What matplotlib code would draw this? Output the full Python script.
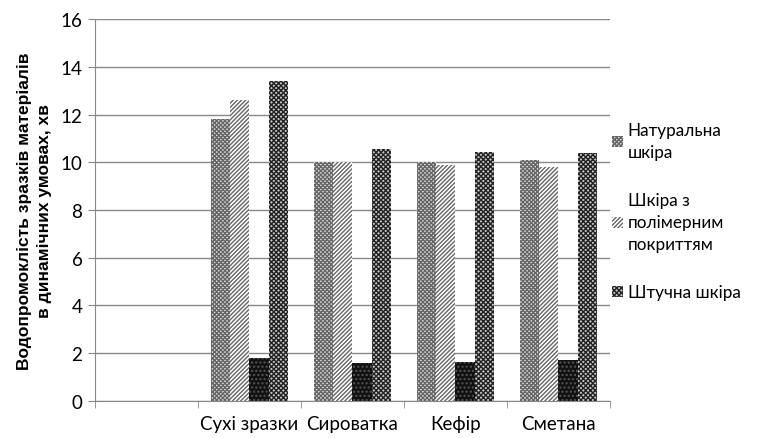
import matplotlib.pyplot as plt
import matplotlib as mpl
import numpy as np

categories = ["", "Сухі зразки", "Сироватка", "Кефір", "Сметана"]
natural = [0, 11.8, 10.0, 10.0, 10.1]
polymer = [0, 12.6, 10.0, 9.9, 9.8]
black_bars = [0, 1.8, 1.6, 1.65, 1.7]
artificial = [0, 13.4, 10.55, 10.45, 10.4]
legend_labels = ["Натуральна\nшкіра", "Шкіра з\nполімерним\nпокриттям", "Штучна шкіра"]

mpl.rcParams['font.family'] = ['Lato', 'DejaVu Sans']
mpl.rcParams['hatch.linewidth'] = 1.0

fig = plt.figure(figsize=(7.58, 4.39), dpi=100)
ax = fig.add_axes([0.1253, 0.0843, 0.6794, 0.8701])

x = np.arange(len(categories))
w = 0.185

b1 = ax.bar(x - 1.5 * w, natural, w, color='#dddddd', hatch='xxxxxxxx', edgecolor='#666666', linewidth=0)
b2 = ax.bar(x - 0.5 * w, polymer, w, color='white', hatch='////////', edgecolor='#666666', linewidth=0)
b3 = ax.bar(x + 0.5 * w, black_bars, w, color='#111111', hatch='....', edgecolor='#555555', linewidth=0)
b4 = ax.bar(x + 1.5 * w, artificial, w, color='#c4c4c4', hatch='xxxxxxx', edgecolor='#111111', linewidth=0)
for bars, ec in ((b1, '#666666'), (b2, '#666666'), (b3, '#555555'), (b4, '#222222')):
    for p in bars:
        p._hatch_color = mpl.colors.to_rgba(ec)

ax.set_xlim(-0.5, 4.5)
ax.set_ylim(0, 16)
ax.set_yticks(range(0, 17, 2))
ax.set_xticks(x)
ax.set_xticklabels(categories, fontsize=13.5)
ax.set_xticks(np.arange(-0.5, 5, 1), minor=True)
ax.tick_params(axis='x', which='major', length=0, pad=10)
ax.tick_params(axis='x', which='minor', length=5, color='#888888', direction='out')
ax.tick_params(axis='y', labelsize=13.5, length=5, color='#888888', pad=4)
ax.yaxis.grid(True, color='#888888', linewidth=1)
ax.set_axisbelow(True)
for s in ('top', 'right'):
    ax.spines[s].set_visible(False)
for s in ('left', 'bottom'):
    ax.spines[s].set_color('#888888')

ax.set_ylabel("Водопромокліcть зразків матеріалів\nв динамічних умовах, хв",
              fontsize=12.5, fontweight='bold', family=['Liberation Sans', 'DejaVu Sans'],
              labelpad=6, linespacing=1.45)

leg = fig.legend([b1, b2, b4], legend_labels, loc='upper left', bbox_to_anchor=(0.808, 0.72),
                 frameon=False, fontsize=12.3, handlelength=0.6, handleheight=0.6,
                 handletextpad=0.3, labelspacing=1.9, borderpad=0, borderaxespad=0)
for t in leg.get_texts():
    t.set_linespacing(1.45)

fig.savefig('out.png', dpi=100)
